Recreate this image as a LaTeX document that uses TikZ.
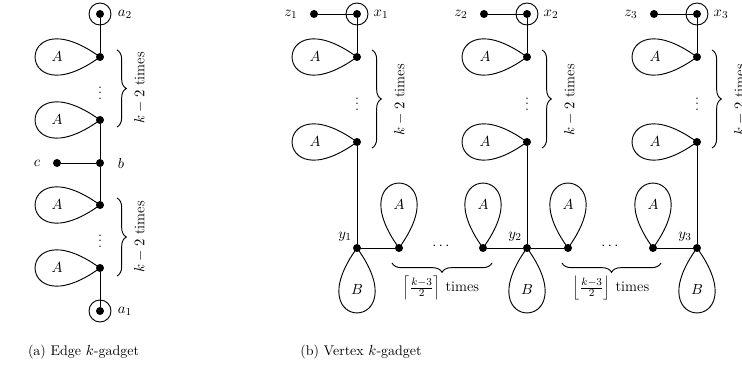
\documentclass[tikz,border=0pt]{standalone}
\usetikzlibrary{decorations.pathreplacing}
\newcommand\mypetal[2]{\draw (#1.center) .. controls +(#2+36:107) and +(#2-36:107) .. (#1.center);}
\begin{document}
\begin{tikzpicture}[x=0.75pt,y=0.75pt,line width=0.7pt,
  every node/.style={font=\fontsize{11}{13}\selectfont},
  vtx/.style={circle,fill,inner sep=0pt,minimum size=6pt},
  ring/.style={circle,draw,inner sep=0pt,minimum size=16.5pt},
  lbl/.style={inner sep=0pt},
  captext/.style={font=\fontsize{10.5}{12.5}\selectfont},
  brc/.style={decorate,decoration={brace,amplitude=7pt}}]
\useasboundingbox (0,0) rectangle (742,-370);
% ---------- (a) edge gadget ----------
\node[vtx] (a2) at (100,-14) {};
\node[ring] (a2r) at (100,-14) {};
\node[vtx] (l1) at (100,-57) {};
\node[vtx] (l2) at (100,-120) {};
\node[vtx] (b) at (100,-163) {};
\node[vtx] (c) at (57,-163) {};
\node[vtx] (l3) at (100,-205) {};
\node[vtx] (l4) at (100,-268) {};
\node[vtx] (a1) at (100,-311) {};
\node[ring] (a1r) at (100,-311) {};
\node[lbl] (a2lab) at (125,-14) {$a_2$};
\node[lbl] (a1lab) at (125,-311) {$a_1$};
\node[lbl] (clab) at (37,-163) {$c$};
\node[lbl] (blab) at (121,-163) {$b$};
\node (d1) at (100,-89) {$\vdots$};
\node (d2) at (100,-237) {$\vdots$};
\draw (a2) -- (l1);
\draw (l2) -- (b) -- (l3);
\draw (c) -- (b);
\draw (l4) -- (a1);
\mypetal{l1}{180}\mypetal{l2}{180}\mypetal{l3}{180}\mypetal{l4}{180}
\node (A1) at (57,-57) {$A$};
\node (A2) at (57,-120) {$A$};
\node (A3) at (57,-205) {$A$};
\node (A4) at (57,-268) {$A$};
\draw[brc] (117,-50) -- (117,-127);
\draw[brc] (117,-198) -- (117,-276);
\node[rotate=90] (t1) at (140,-88) {$k-2$ times};
\node[rotate=90] (t2) at (140,-237) {$k-2$ times};
% ---------- (b) vertex gadget ----------
\foreach \i/\X in {1/357,2/527,3/697}{
  \node[vtx] (x\i) at (\X,-14) {};
  \node[ring] (xr\i) at (\X,-14) {};
  \node[vtx] (z\i) at (\X-43,-14) {};
  \node[lbl] (zl\i) at (\X-66,-14) {$z_\i$};
  \node[lbl] (xl\i) at (\X+24,-14) {$x_\i$};
  \node[vtx] (u\i) at (\X,-57) {};
  \node[vtx] (w\i) at (\X,-142) {};
  \node[vtx] (y\i) at (\X,-248) {};
  \node[lbl] (yl\i) at (\X-12,-237) {$y_\i$};
  \node (vd\i) at (\X,-100) {$\vdots$};
  \draw (z\i) -- (x\i) -- (u\i);
  \draw (w\i) -- (y\i);
  \mypetal{u\i}{180}\mypetal{w\i}{180}\mypetal{y\i}{270}
  \node (ua\i) at (\X-42,-57) {$A$};
  \node (wa\i) at (\X-42,-142) {$A$};
  \node (yb\i) at (\X,-290) {$B$};
  \draw[brc] (\X+15,-50) -- (\X+15,-148);
  \node[rotate=90] (kt\i) at (\X+43,-100) {$k-2$ times};
}
\node[vtx] (p1a) at (399,-248) {};
\node[vtx] (p1b) at (483,-248) {};
\node[vtx] (p2a) at (568,-248) {};
\node[vtx] (p2b) at (653,-248) {};
\draw (y1) -- (p1a);
\draw (p1b) -- (y2) -- (p2a);
\draw (p2b) -- (y3);
\mypetal{p1a}{90}\mypetal{p1b}{90}\mypetal{p2a}{90}\mypetal{p2b}{90}
\node (pa1) at (399,-205) {$A$};
\node (pa2) at (483,-205) {$A$};
\node (pa3) at (568,-205) {$A$};
\node (pa4) at (653,-205) {$A$};
\node (hd1) at (441,-246) {$\cdots$};
\node (hd2) at (610,-246) {$\cdots$};
\draw[brc] (492,-263) -- (392,-263);
\draw[brc] (661,-263) -- (562,-263);
\node (ct) at (441,-288) {$\left\lceil\frac{k-3}{2}\right\rceil$ times};
\node (ft) at (611,-288) {$\left\lfloor\frac{k-3}{2}\right\rfloor$ times};
% ---------- captions ----------
\node[captext] (capa) at (83.5,-352) {(a) Edge $k$-gadget};
\node[captext] (capb) at (361,-352) {(b) Vertex $k$-gadget};
\end{tikzpicture}
\end{document}
